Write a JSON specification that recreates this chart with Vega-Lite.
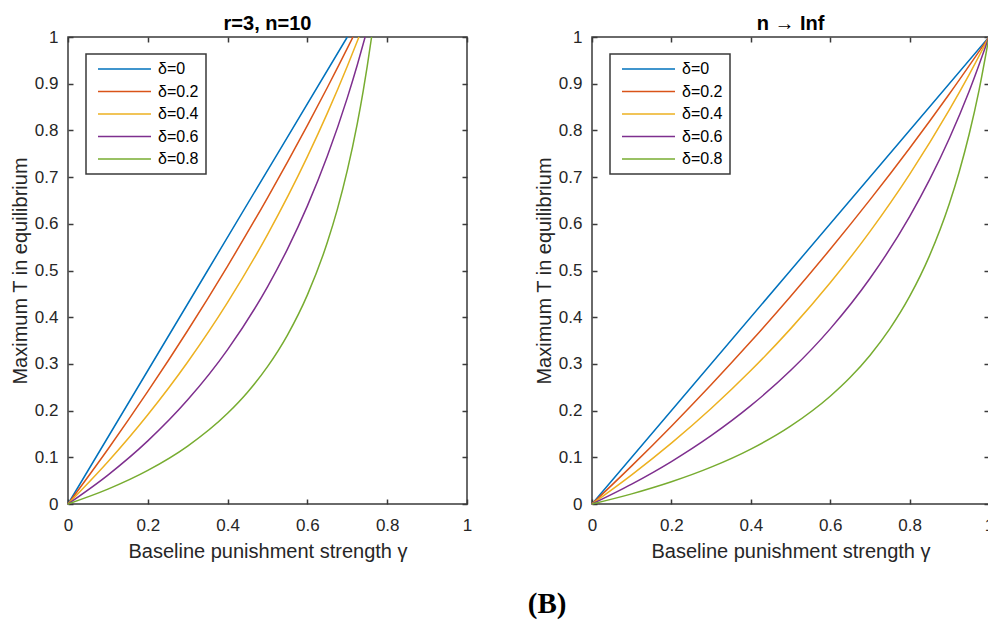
{
  "$schema": "https://vega.github.io/schema/vega-lite/v6.json",
  "background": "white",
  "padding": {"left": 9, "top": 13, "right": 0, "bottom": 0},
  "title": {"text": "(B)", "orient": "bottom", "anchor": "middle", "font": "Liberation Serif", "fontSize": 29, "fontWeight": "bold", "color": "#000000", "dx": 45, "offset": 28},
  "config": {
    "view": {"stroke": "#3a3a3a", "strokeWidth": 1.5},
    "font": "Liberation Sans",
    "axis": {"grid": false, "domain": false, "tickSize": -5, "tickColor": "#3a3a3a", "tickWidth": 1.5, "labelFlush": false, "labelFont": "Liberation Sans", "labelFontSize": 17, "labelColor": "#262626", "titleFont": "Liberation Sans", "titleFontSize": 20, "titleFontWeight": "normal", "titleColor": "#262626"},
    "title": {"font": "Liberation Sans", "fontSize": 20, "fontWeight": "bold", "color": "#000000", "offset": -6},
    "legend": {"strokeColor": "#3a3a3a", "strokeWidth": 1.5, "fillColor": "white", "padding": 7, "symbolType": "stroke", "symbolSize": 2809, "symbolStrokeWidth": 1.5, "clipHeight": 16, "rowPadding": 6.5, "labelFont": "Liberation Sans", "labelFontSize": 16, "labelColor": "#000000", "labelOffset": 6, "symbolOffset": 4}
  },
  "datasets": {
    "curves": [
      {"p": "L", "d": "δ=0", "g": 0, "T": 0},
      {"p": "L", "d": "δ=0", "g": 0.35, "T": 0.5},
      {"p": "L", "d": "δ=0", "g": 0.7, "T": 1},
      {"p": "L", "d": "δ=0.2", "g": 0, "T": 0},
      {"p": "L", "d": "δ=0.2", "g": 0.1, "T": 0.1173},
      {"p": "L", "d": "δ=0.2", "g": 0.2, "T": 0.241},
      {"p": "L", "d": "δ=0.2", "g": 0.3, "T": 0.3715},
      {"p": "L", "d": "δ=0.2", "g": 0.4, "T": 0.5096},
      {"p": "L", "d": "δ=0.2", "g": 0.5, "T": 0.6557},
      {"p": "L", "d": "δ=0.2", "g": 0.6, "T": 0.8108},
      {"p": "L", "d": "δ=0.2", "g": 0.65, "T": 0.8919},
      {"p": "L", "d": "δ=0.2", "g": 0.68, "T": 0.9418},
      {"p": "L", "d": "δ=0.2", "g": 0.7143, "T": 1},
      {"p": "L", "d": "δ=0.4", "g": 0, "T": 0},
      {"p": "L", "d": "δ=0.4", "g": 0.1, "T": 0.0904},
      {"p": "L", "d": "δ=0.4", "g": 0.2, "T": 0.1911},
      {"p": "L", "d": "δ=0.4", "g": 0.3, "T": 0.3041},
      {"p": "L", "d": "δ=0.4", "g": 0.4, "T": 0.4317},
      {"p": "L", "d": "δ=0.4", "g": 0.5, "T": 0.5769},
      {"p": "L", "d": "δ=0.4", "g": 0.6, "T": 0.7438},
      {"p": "L", "d": "δ=0.4", "g": 0.65, "T": 0.8369},
      {"p": "L", "d": "δ=0.4", "g": 0.7, "T": 0.9375},
      {"p": "L", "d": "δ=0.4", "g": 0.7292, "T": 1},
      {"p": "L", "d": "δ=0.6", "g": 0, "T": 0},
      {"p": "L", "d": "δ=0.6", "g": 0.1, "T": 0.0619},
      {"p": "L", "d": "δ=0.6", "g": 0.2, "T": 0.1351},
      {"p": "L", "d": "δ=0.6", "g": 0.3, "T": 0.223},
      {"p": "L", "d": "δ=0.6", "g": 0.4, "T": 0.3306},
      {"p": "L", "d": "δ=0.6", "g": 0.5, "T": 0.4651},
      {"p": "L", "d": "δ=0.6", "g": 0.55, "T": 0.5459},
      {"p": "L", "d": "δ=0.6", "g": 0.6, "T": 0.6383},
      {"p": "L", "d": "δ=0.6", "g": 0.65, "T": 0.745},
      {"p": "L", "d": "δ=0.6", "g": 0.7, "T": 0.8696},
      {"p": "L", "d": "δ=0.6", "g": 0.725, "T": 0.94},
      {"p": "L", "d": "δ=0.6", "g": 0.7447, "T": 1},
      {"p": "L", "d": "δ=0.8", "g": 0, "T": 0},
      {"p": "L", "d": "δ=0.8", "g": 0.1, "T": 0.0318},
      {"p": "L", "d": "δ=0.8", "g": 0.2, "T": 0.0719},
      {"p": "L", "d": "δ=0.8", "g": 0.3, "T": 0.124},
      {"p": "L", "d": "δ=0.8", "g": 0.4, "T": 0.1942},
      {"p": "L", "d": "δ=0.8", "g": 0.45, "T": 0.2394},
      {"p": "L", "d": "δ=0.8", "g": 0.5, "T": 0.2941},
      {"p": "L", "d": "δ=0.8", "g": 0.55, "T": 0.3618},
      {"p": "L", "d": "δ=0.8", "g": 0.6, "T": 0.4478},
      {"p": "L", "d": "δ=0.8", "g": 0.65, "T": 0.5603},
      {"p": "L", "d": "δ=0.8", "g": 0.675, "T": 0.6308},
      {"p": "L", "d": "δ=0.8", "g": 0.7, "T": 0.7143},
      {"p": "L", "d": "δ=0.8", "g": 0.725, "T": 0.8146},
      {"p": "L", "d": "δ=0.8", "g": 0.74, "T": 0.8852},
      {"p": "L", "d": "δ=0.8", "g": 0.75, "T": 0.9375},
      {"p": "L", "d": "δ=0.8", "g": 0.7609, "T": 1},
      {"p": "R", "d": "δ=0", "g": 0, "T": 0},
      {"p": "R", "d": "δ=0", "g": 0.5, "T": 0.5},
      {"p": "R", "d": "δ=0", "g": 1, "T": 1},
      {"p": "R", "d": "δ=0.2", "g": 0, "T": 0},
      {"p": "R", "d": "δ=0.2", "g": 0.1, "T": 0.0816},
      {"p": "R", "d": "δ=0.2", "g": 0.2, "T": 0.1667},
      {"p": "R", "d": "δ=0.2", "g": 0.3, "T": 0.2553},
      {"p": "R", "d": "δ=0.2", "g": 0.4, "T": 0.3478},
      {"p": "R", "d": "δ=0.2", "g": 0.5, "T": 0.4444},
      {"p": "R", "d": "δ=0.2", "g": 0.6, "T": 0.5455},
      {"p": "R", "d": "δ=0.2", "g": 0.7, "T": 0.6512},
      {"p": "R", "d": "δ=0.2", "g": 0.8, "T": 0.7619},
      {"p": "R", "d": "δ=0.2", "g": 0.9, "T": 0.878},
      {"p": "R", "d": "δ=0.2", "g": 1, "T": 1},
      {"p": "R", "d": "δ=0.4", "g": 0, "T": 0},
      {"p": "R", "d": "δ=0.4", "g": 0.1, "T": 0.0625},
      {"p": "R", "d": "δ=0.4", "g": 0.2, "T": 0.1304},
      {"p": "R", "d": "δ=0.4", "g": 0.3, "T": 0.2045},
      {"p": "R", "d": "δ=0.4", "g": 0.4, "T": 0.2857},
      {"p": "R", "d": "δ=0.4", "g": 0.5, "T": 0.375},
      {"p": "R", "d": "δ=0.4", "g": 0.6, "T": 0.4737},
      {"p": "R", "d": "δ=0.4", "g": 0.7, "T": 0.5833},
      {"p": "R", "d": "δ=0.4", "g": 0.8, "T": 0.7059},
      {"p": "R", "d": "δ=0.4", "g": 0.9, "T": 0.8438},
      {"p": "R", "d": "δ=0.4", "g": 0.95, "T": 0.9194},
      {"p": "R", "d": "δ=0.4", "g": 1, "T": 1},
      {"p": "R", "d": "δ=0.6", "g": 0, "T": 0},
      {"p": "R", "d": "δ=0.6", "g": 0.1, "T": 0.0426},
      {"p": "R", "d": "δ=0.6", "g": 0.2, "T": 0.0909},
      {"p": "R", "d": "δ=0.6", "g": 0.3, "T": 0.1463},
      {"p": "R", "d": "δ=0.6", "g": 0.4, "T": 0.2105},
      {"p": "R", "d": "δ=0.6", "g": 0.5, "T": 0.2857},
      {"p": "R", "d": "δ=0.6", "g": 0.6, "T": 0.375},
      {"p": "R", "d": "δ=0.6", "g": 0.7, "T": 0.4828},
      {"p": "R", "d": "δ=0.6", "g": 0.8, "T": 0.6154},
      {"p": "R", "d": "δ=0.6", "g": 0.85, "T": 0.6939},
      {"p": "R", "d": "δ=0.6", "g": 0.9, "T": 0.7826},
      {"p": "R", "d": "δ=0.6", "g": 0.95, "T": 0.8837},
      {"p": "R", "d": "δ=0.6", "g": 1, "T": 1},
      {"p": "R", "d": "δ=0.8", "g": 0, "T": 0},
      {"p": "R", "d": "δ=0.8", "g": 0.1, "T": 0.0217},
      {"p": "R", "d": "δ=0.8", "g": 0.2, "T": 0.0476},
      {"p": "R", "d": "δ=0.8", "g": 0.3, "T": 0.0789},
      {"p": "R", "d": "δ=0.8", "g": 0.4, "T": 0.1176},
      {"p": "R", "d": "δ=0.8", "g": 0.5, "T": 0.1667},
      {"p": "R", "d": "δ=0.8", "g": 0.6, "T": 0.2308},
      {"p": "R", "d": "δ=0.8", "g": 0.65, "T": 0.2708},
      {"p": "R", "d": "δ=0.8", "g": 0.7, "T": 0.3182},
      {"p": "R", "d": "δ=0.8", "g": 0.75, "T": 0.375},
      {"p": "R", "d": "δ=0.8", "g": 0.8, "T": 0.4444},
      {"p": "R", "d": "δ=0.8", "g": 0.85, "T": 0.5313},
      {"p": "R", "d": "δ=0.8", "g": 0.9, "T": 0.6429},
      {"p": "R", "d": "δ=0.8", "g": 0.925, "T": 0.7115},
      {"p": "R", "d": "δ=0.8", "g": 0.95, "T": 0.7917},
      {"p": "R", "d": "δ=0.8", "g": 0.975, "T": 0.8864},
      {"p": "R", "d": "δ=0.8", "g": 1, "T": 1}
    ]
  },
  "spacing": 125,
  "bounds": "flush",
  "resolve": {"legend": {"color": "independent"}},
  "hconcat": [
    {
      "width": 399,
      "height": 467,
      "title": {"text": "r=3, n=10"},
      "data": {"name": "curves"},
      "transform": [{"filter": "datum.p === 'L'"}],
      "resolve": {"axis": {"x": "independent", "y": "independent"}},
      "layer": [
        {
          "mark": {"type": "line", "strokeWidth": 1.5, "interpolate": "monotone", "clip": false},
          "encoding": {
            "x": {"field": "g", "type": "quantitative", "scale": {"domain": [0, 1], "nice": false, "zero": false}, "axis": {"orient": "bottom", "values": [0, 0.2, 0.4, 0.6, 0.8, 1], "format": "~g", "labelPadding": 18.5, "titlePadding": 8, "title": "Baseline punishment strength γ"}},
            "y": {"field": "T", "type": "quantitative", "scale": {"domain": [0, 1], "nice": false}, "axis": {"orient": "left", "values": [0, 0.1, 0.2, 0.3, 0.4, 0.5, 0.6, 0.7, 0.8, 0.9, 1], "format": "~g", "labelPadding": 15, "titlePadding": 4, "title": "Maximum T in equilibrium"}},
            "color": {"field": "d", "type": "nominal", "scale": {"domain": ["δ=0", "δ=0.2", "δ=0.4", "δ=0.6", "δ=0.8"], "range": ["#0072BD", "#D95319", "#EDB120", "#7E2F8E", "#77AC30"]}, "legend": {"title": null, "orient": "none", "legendX": 18, "legendY": 17}}
          }
        },
        {
          "mark": {"type": "line", "opacity": 0},
          "encoding": {
            "x": {"field": "g", "type": "quantitative", "axis": {"orient": "top", "values": [0, 0.2, 0.4, 0.6, 0.8, 1], "labels": false, "title": null}},
            "y": {"field": "T", "type": "quantitative", "axis": {"orient": "right", "values": [0, 0.1, 0.2, 0.3, 0.4, 0.5, 0.6, 0.7, 0.8, 0.9, 1], "labels": false, "title": null}},
            "detail": {"field": "d"}
          }
        }
      ]
    },
    {
      "width": 397,
      "height": 467,
      "title": {"text": "n → Inf"},
      "data": {"name": "curves"},
      "transform": [{"filter": "datum.p === 'R'"}],
      "resolve": {"axis": {"x": "independent", "y": "independent"}},
      "layer": [
        {
          "mark": {"type": "line", "strokeWidth": 1.5, "interpolate": "monotone", "clip": false},
          "encoding": {
            "x": {"field": "g", "type": "quantitative", "scale": {"domain": [0, 1], "nice": false, "zero": false}, "axis": {"orient": "bottom", "values": [0, 0.2, 0.4, 0.6, 0.8, 1], "format": "~g", "labelPadding": 18.5, "titlePadding": 8, "title": "Baseline punishment strength γ"}},
            "y": {"field": "T", "type": "quantitative", "scale": {"domain": [0, 1], "nice": false}, "axis": {"orient": "left", "values": [0, 0.1, 0.2, 0.3, 0.4, 0.5, 0.6, 0.7, 0.8, 0.9, 1], "format": "~g", "labelPadding": 15, "titlePadding": 4, "title": "Maximum T in equilibrium"}},
            "color": {"field": "d", "type": "nominal", "scale": {"domain": ["δ=0", "δ=0.2", "δ=0.4", "δ=0.6", "δ=0.8"], "range": ["#0072BD", "#D95319", "#EDB120", "#7E2F8E", "#77AC30"]}, "legend": {"title": null, "orient": "none", "legendX": 18, "legendY": 17}}
          }
        },
        {
          "mark": {"type": "line", "opacity": 0},
          "encoding": {
            "x": {"field": "g", "type": "quantitative", "axis": {"orient": "top", "values": [0, 0.2, 0.4, 0.6, 0.8, 1], "labels": false, "title": null}},
            "y": {"field": "T", "type": "quantitative", "axis": {"orient": "right", "values": [0, 0.1, 0.2, 0.3, 0.4, 0.5, 0.6, 0.7, 0.8, 0.9, 1], "labels": false, "title": null}},
            "detail": {"field": "d"}
          }
        }
      ]
    }
  ]
}
